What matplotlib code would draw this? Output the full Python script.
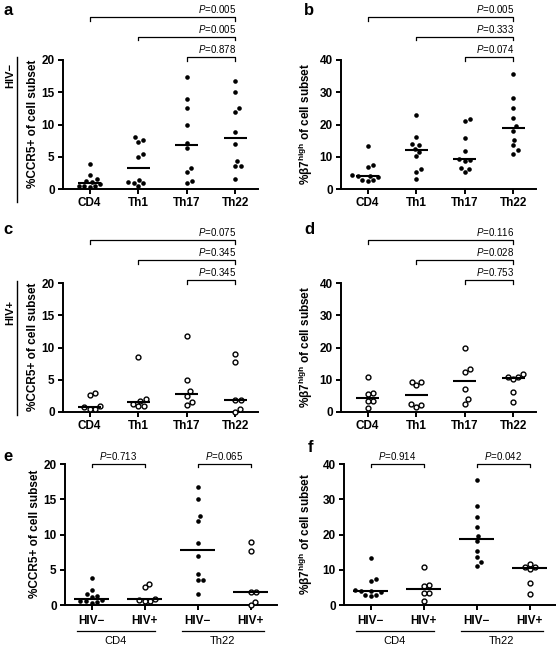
import numpy as np
import matplotlib
matplotlib.use("Agg")
import matplotlib.pyplot as plt
from matplotlib.transforms import blended_transform_factory

plt.rcParams['font.family'] = ['Liberation Sans', 'DejaVu Sans']
plt.rcParams['mathtext.fontset'] = 'custom'
plt.rcParams['mathtext.rm'] = 'Liberation Sans'
plt.rcParams['mathtext.it'] = 'Liberation Sans:italic'
plt.rcParams['mathtext.bf'] = 'Liberation Sans:bold'

# ---------------- data ----------------
subsets = ["CD4", "Th1", "Th17", "Th22"]
groups_ef = ["HIV−", "HIV+", "HIV−", "HIV+"]
group_names_ef = ["CD4", "Th22"]

ccr5_neg_cd4 = [3.9, 2.1, 1.5, 1.3, 1.1, 0.7, 0.5, 0.5, 0.4, 0.3]
ccr5_neg_th1 = [8.0, 7.6, 7.3, 5.4, 5.0, 1.4, 1.1, 1.0, 0.9, 0.5]
ccr5_neg_th17 = [17.4, 13.9, 12.6, 10.0, 7.2, 6.3, 3.2, 2.6, 1.2, 0.9]
ccr5_neg_th22 = [16.7, 15.0, 12.6, 11.9, 8.8, 6.9, 4.4, 3.6, 3.6, 1.5]

b7_neg_cd4 = [13.2, 7.4, 6.7, 4.2, 4.1, 3.9, 3.6, 2.9, 2.7, 2.5]
b7_neg_th1 = [22.8, 16.2, 14.0, 13.6, 12.4, 11.6, 10.2, 6.2, 5.2, 3.0]
b7_neg_th17 = [21.8, 21.1, 15.9, 11.9, 9.2, 9.1, 8.6, 6.5, 6.3, 5.3]
b7_neg_th22 = [35.6, 28.2, 25.1, 22.1, 19.6, 18.1, 15.2, 13.5, 12.1, 11.0]

ccr5_pos_cd4 = [3.0, 2.6, 0.9, 0.7, 0.5, 0.5]
ccr5_pos_th1 = [8.5, 2.0, 1.7, 1.3, 0.9, 0.9]
ccr5_pos_th17 = [11.8, 5.0, 3.2, 2.5, 1.5, 1.1]
ccr5_pos_th22 = [9.0, 7.7, 1.9, 1.85, 0.4, 0.0]

b7_pos_cd4 = [10.8, 5.8, 5.5, 3.4, 3.3, 1.2]
b7_pos_th1 = [9.4, 9.2, 8.3, 2.4, 2.2, 1.5]
b7_pos_th17 = [20.0, 13.2, 12.5, 7.0, 3.9, 2.6]
b7_pos_th22 = [11.7, 10.9, 10.8, 10.1, 6.1, 3.0]

p_a = ["0.005", "0.005", "0.878"]
p_b = ["0.005", "0.333", "0.074"]
p_c = ["0.075", "0.345", "0.345"]
p_d = ["0.116", "0.028", "0.753"]
p_e = ["0.713", "0.065"]
p_f = ["0.914", "0.042"]

# ---------------- layout helpers ----------------
W, H = 556, 648
fig = plt.figure(figsize=(W / 100, H / 100), dpi=100)


def fx(x):
    return x / W


def fy(y):
    return 1 - y / H


def make_ax(l, t, r, b):
    return fig.add_axes([fx(l), fy(b), (r - l) / W, (b - t) / H])


def swarm(values, ppx, ppy, d=5.6):
    vals = np.asarray(values, float)
    order = np.argsort(vals)
    placed = []
    offs = np.zeros(len(vals))
    for i in order:
        y = vals[i] * ppy
        cands = [0.0]
        for (xj, yj) in placed:
            dy = abs(y - yj)
            if dy < d:
                dx = np.sqrt(d * d - dy * dy)
                cands += [xj + dx, xj - dx]
        cands = sorted(cands, key=lambda c: (abs(c), -c))
        for c in cands:
            ok = all((c - xj) ** 2 + (y - yj) ** 2 >= d * d - 1e-6 for (xj, yj) in placed)
            if ok:
                break
        placed.append((c, y))
        offs[i] = c / ppx
    return offs


def style_ax(ax, xlim, ymax, ystep, xticks, xlabels):
    ax.set_xlim(*xlim)
    ax.set_ylim(0, ymax)
    for s in ["top", "right"]:
        ax.spines[s].set_visible(False)
    for s in ["left", "bottom"]:
        ax.spines[s].set_linewidth(1.4)
    ax.set_yticks(np.arange(0, ymax + 0.1, ystep))
    ax.set_xticks(xticks)
    ax.set_xticklabels(xlabels)
    ax.tick_params(axis="both", length=3.5, width=1.4, labelsize=8.5, pad=2.5)
    for lab in ax.get_xticklabels() + ax.get_yticklabels():
        lab.set_fontweight("bold")


def draw_groups(ax, datasets, positions, filled, half, ymax, px_w, px_h):
    xl = ax.get_xlim()
    ppx = px_w / (xl[1] - xl[0])
    ppy = px_h / ymax
    for vals, pos, fil in zip(datasets, positions, filled):
        offs = swarm(vals, ppx, ppy)
        if fil:
            ax.plot(pos + offs, vals, "o", ms=3.3, color="black", mew=0,
                    clip_on=False, zorder=3)
        else:
            ax.plot(pos + offs, vals, "o", ms=3.5, mfc="white", mec="black",
                    mew=1.0, clip_on=False, zorder=3)
        med = np.median(vals)
        ax.plot([pos - half, pos + half], [med, med], color="black", lw=1.5,
                zorder=4, solid_capstyle="butt")


def bracket(ax, x0, x1, off_px, px_h, text, ha="right"):
    tr = blended_transform_factory(ax.transData, ax.transAxes)
    y = 1 + off_px / px_h
    tick = 3.5 / px_h
    ax.plot([x0, x0, x1, x1], [y - tick, y, y, y - tick], color="black",
            lw=0.9, transform=tr, clip_on=False)
    label = r"$\it{P}$=" + text
    if ha == "right":
        ax.text(x1 + 0.02, y + 2.0 / px_h, label, transform=tr, ha="right",
                va="bottom", fontsize=7)
    else:
        ax.text((x0 + x1) / 2, y + 2.0 / px_h, label, transform=tr, ha="center",
                va="bottom", fontsize=7)


ylab_ccr5 = "%CCR5+ of cell subset"
ylab_b7 = r"%β7$^{\mathregular{high}}$ of cell subset"

# ---------------- panels a-d ----------------
xlim_abcd = (-0.55, 3.47)
pos4 = np.arange(4)
panels = [
    # l, t, r, b, data, ymax, step, filled, pvals, letter, letter pos, ylabel, ylabel pos
    (63, 60, 258, 189, [ccr5_neg_cd4, ccr5_neg_th1, ccr5_neg_th17, ccr5_neg_th22], 20, 5, True, p_a, "a", (3, 15), ylab_ccr5, (33, 124)),
    (341, 60, 536, 189, [b7_neg_cd4, b7_neg_th1, b7_neg_th17, b7_neg_th22], 40, 10, True, p_b, "b", (304, 15), ylab_b7, (306, 124)),
    (63, 283, 258, 412, [ccr5_pos_cd4, ccr5_pos_th1, ccr5_pos_th17, ccr5_pos_th22], 20, 5, False, p_c, "c", (3, 234), ylab_ccr5, (33, 347)),
    (341, 283, 536, 412, [b7_pos_cd4, b7_pos_th1, b7_pos_th17, b7_pos_th22], 40, 10, False, p_d, "d", (304, 234), ylab_b7, (306, 347)),
]
for (l, t, r, b, data, ymax, step, fil, pv, letter, lpos, ylab, ypos) in panels:
    ax = make_ax(l, t, r, b)
    style_ax(ax, xlim_abcd, ymax, step, pos4, subsets)
    draw_groups(ax, data, pos4, [fil] * 4, 0.24, ymax, r - l, b - t)
    bracket(ax, 0, 3, 43, b - t, pv[0])
    bracket(ax, 1, 3, 23, b - t, pv[1])
    bracket(ax, 2, 3, 3, b - t, pv[2])
    fig.text(fx(lpos[0]), fy(lpos[1]), letter, fontsize=12, fontweight="bold",
             ha="left", va="baseline")
    fig.text(fx(ypos[0]), fy(ypos[1]), ylab, rotation=90, ha="center",
             va="center", fontsize=8.5, fontweight="bold")

# HIV status side labels
for (txt, y0, y1, yc) in [("HIV−", 57, 202, 75), ("HIV+", 281, 415, 312)]:
    fig.add_artist(plt.Line2D([fx(17), fx(17)], [fy(y0), fy(y1)], color="black",
                              lw=1.0, transform=fig.transFigure))
    fig.text(fx(10), fy(yc), txt, rotation=90, ha="center", va="center",
             fontsize=8, fontweight="bold")

# ---------------- panels e-f ----------------
xlim_ef = (-0.5, 3.5)
panels_ef = [
    (65, 464, 277, 605, [ccr5_neg_cd4, ccr5_pos_cd4, ccr5_neg_th22, ccr5_pos_th22], 20, 5, p_e, "e", (3, 461), ylab_ccr5, (35, 534)),
    (344, 464, 556, 605, [b7_neg_cd4, b7_pos_cd4, b7_neg_th22, b7_pos_th22], 40, 10, p_f, "f", (308, 452), ylab_b7, (306, 534)),
]
for (l, t, r, b, data, ymax, step, pv, letter, lpos, ylab, ypos) in panels_ef:
    ax = make_ax(l, t, r, b)
    style_ax(ax, xlim_ef, ymax, step, pos4, groups_ef)
    ax.tick_params(axis="x", pad=4)
    draw_groups(ax, data, pos4, [True, False, True, False], 0.33, ymax, r - l, b - t)
    bracket(ax, 0, 1, 0.5, b - t, pv[0], ha="center")
    bracket(ax, 2, 3, 0.5, b - t, pv[1], ha="center")
    fig.text(fx(lpos[0]), fy(lpos[1]), letter, fontsize=12, fontweight="bold",
             ha="left", va="baseline")
    fig.text(fx(ypos[0]), fy(ypos[1]), ylab, rotation=90, ha="center",
             va="center", fontsize=8.5, fontweight="bold")
    tr = blended_transform_factory(ax.transData, fig.transFigure)
    for (x0, x1), name in zip([(-0.28, 1.2), (1.7, 3.26)], group_names_ef):
        ax.plot([x0, x1], [fy(631), fy(631)], color="black", lw=0.9,
                transform=tr, clip_on=False)
        ax.text((x0 + x1) / 2, fy(641), name, transform=tr, ha="center",
                va="center", fontsize=8)

fig.savefig("out.png", dpi=100)
